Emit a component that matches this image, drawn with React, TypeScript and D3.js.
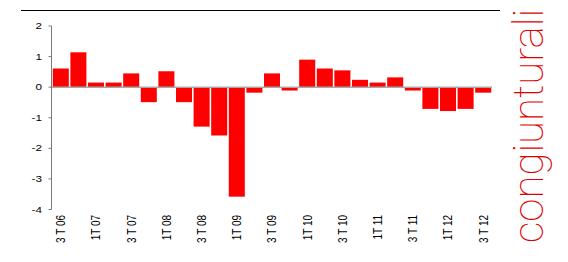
import React from "react";
import * as d3 from "d3";

const categories = [
  "3T06", "4T06", "1T07", "2T07", "3T07", "4T07", "1T08", "2T08", "3T08", "4T08",
  "1T09", "2T09", "3T09", "4T09", "1T10", "2T10", "3T10", "4T10", "1T11", "2T11",
  "3T11", "4T11", "1T12", "2T12", "3T12",
];
const values = [
  0.61, 1.14, 0.15, 0.15, 0.45, -0.49, 0.52, -0.49, -1.29, -1.58,
  -3.58, -0.18, 0.45, -0.11, 0.9, 0.61, 0.55, 0.24, 0.15, 0.32,
  -0.11, -0.71, -0.78, -0.71, -0.18,
];
const xTickLabels: Record<string, string> = {
  "3T06": "3 T 06", "1T07": "1T 07", "3T07": "3 T 07", "1T08": "1T 08",
  "3T08": "3 T 08", "1T09": "1T 09", "3T09": "3 T 09", "1T10": "1T 10",
  "3T10": "3 T 10", "1T11": "1T 11", "3T11": "3 T 11", "1T12": "1T 12",
  "3T12": "3 T 12",
};
const yTicks = [2, 1, 0, -1, -2, -3, -4];
const sideTitle = "congiunturali";

export default function App() {
  const W = 568, H = 262;
  const x = d3.scaleBand<string>().domain(categories).range([52, 492]).paddingInner(0.09).paddingOuter(0.045);
  const y = d3.scaleLinear().domain([-4, 2]).range([209.5, 26]);
  const font = "'Liberation Sans', Arial, sans-serif";
  return (
    <svg width={W} height={H} style={{ position: "absolute", left: 0, top: 0, background: "#fff" }}>
      <line x1={21} x2={500} y1={10.5} y2={10.5} stroke="#000" strokeWidth={1.2} />
      {values.map((v, i) => (
        <rect key={i} x={x(categories[i])} width={x.bandwidth()}
          y={y(Math.max(0, v))} height={Math.abs(y(v) - y(0))} fill="#ff0000" />
      ))}
      <line x1={52} x2={492} y1={y(0)} y2={y(0)} stroke="#a8a8a8" strokeWidth={1.5} />
      <line x1={51.5} x2={51.5} y1={y(2)} y2={y(-4)} stroke="#7a7a7a" strokeWidth={1} />
      {yTicks.map((t) => (
        <g key={t}>
          <line x1={48.5} x2={51.5} y1={y(t)} y2={y(t)} stroke="#7a7a7a" strokeWidth={1} />
          <text transform={`translate(42,${y(t)}) scale(1.3,1)`} dy="0.35em" textAnchor="end"
            fontFamily={font} fontSize={9} fill="#000">{t}</text>
        </g>
      ))}
      {categories.filter((c) => xTickLabels[c]).map((c) => (
        <text key={c} transform={`translate(${x(c)! + x.bandwidth() / 2},215) scale(1.25,1) rotate(-90)`}
          dy="0.35em" textAnchor="end" fontFamily={font} fontSize={10} fill="#000">{xTickLabels[c]}</text>
      ))}
      <text transform="translate(543,243) rotate(-90)" fontFamily="Roboto, Lato, Inter, sans-serif"
        fontWeight={100} fontSize={42} fill="#e00000">{sideTitle}</text>
    </svg>
  );
}
